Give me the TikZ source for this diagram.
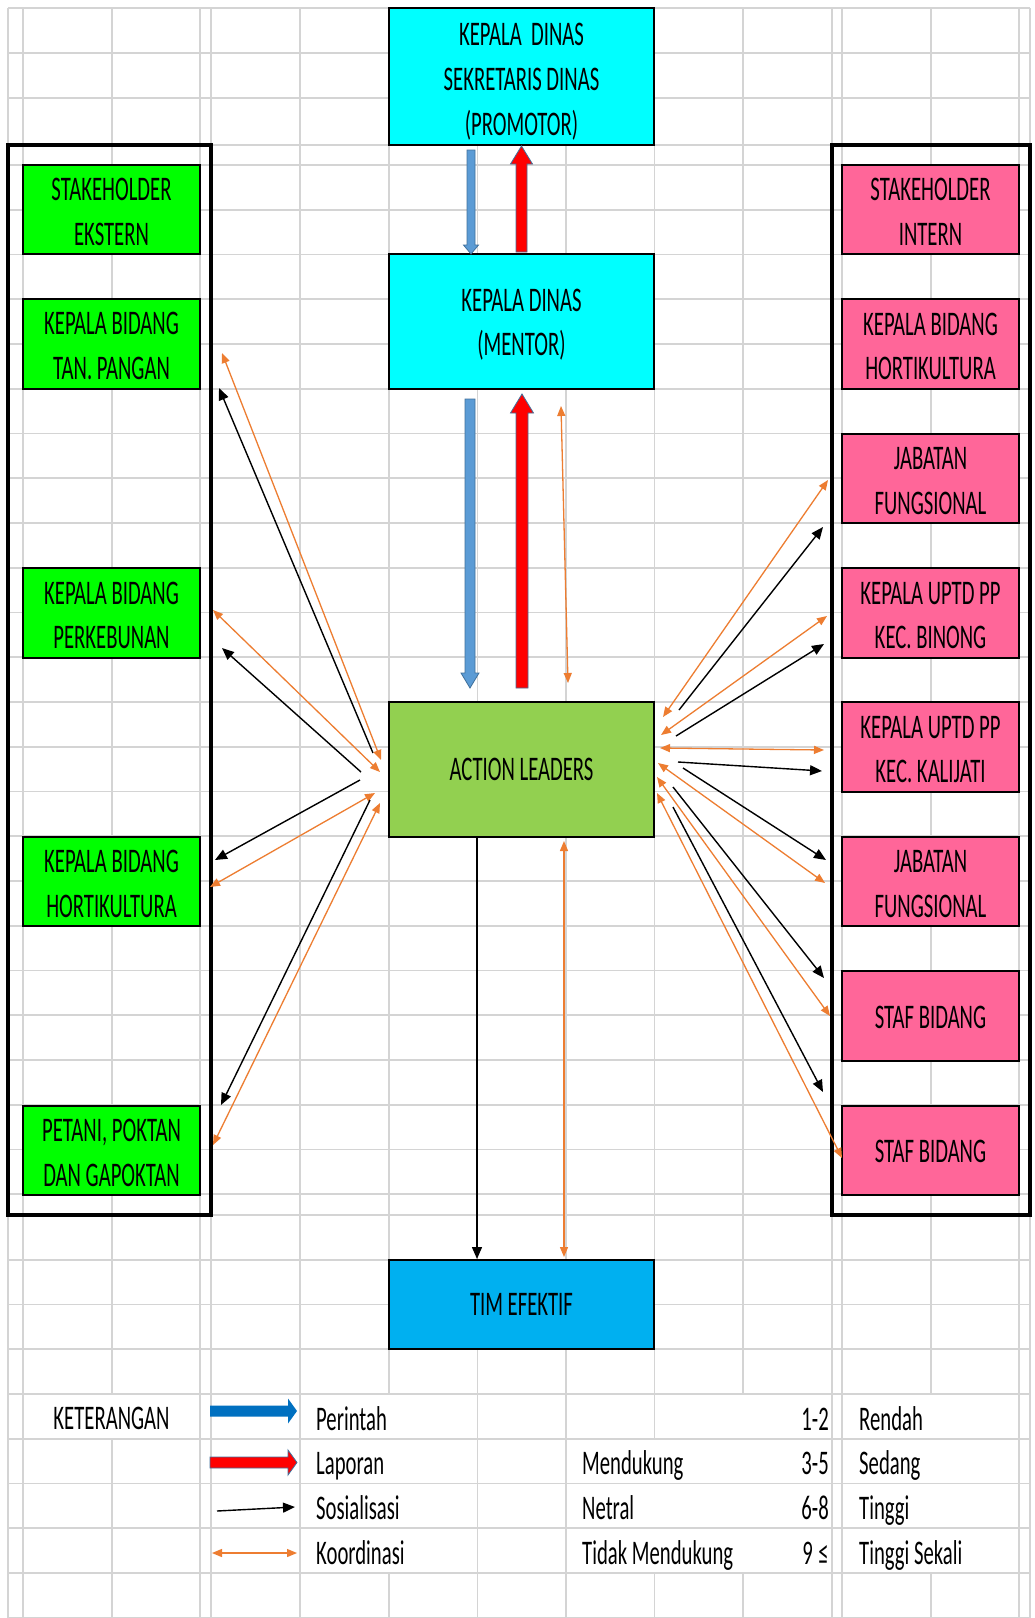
\documentclass[tikz,border=0pt]{standalone}
\usepackage{fontspec}
\setmainfont{Carlito}[FakeStretch=0.6]
\usetikzlibrary{arrows.meta}
\definecolor{gridc}{RGB}{212,212,212}
\definecolor{cyanbox}{RGB}{0,255,255}
\definecolor{greenbox}{RGB}{0,255,0}
\definecolor{pinkbox}{RGB}{255,102,153}
\definecolor{albox}{RGB}{146,208,80}
\definecolor{timbox}{RGB}{0,176,240}
\definecolor{arrblue}{RGB}{91,155,213}
\definecolor{legblue}{RGB}{0,112,192}
\definecolor{outl}{RGB}{65,113,156}
\definecolor{orng}{RGB}{237,125,49}
\newcommand\bxfont{\fontsize{34.5pt}{44.75pt}\selectfont}
\newcommand\tst[1]{\rule{0pt}{#1pt}}
% vertical block arrow: style, x, ytail, ybase, ytip, half shaft, half head
\newcommand\vblk[7]{\filldraw[#1] ({#2-#6},#3) -- ({#2-#6},#4) -- ({#2-#7},#4) -- (#2,#5) -- ({#2+#7},#4) -- ({#2+#6},#4) -- ({#2+#6},#3) -- cycle;}
% horizontal block arrow: style, y, xtail, xbase, xtip, half shaft, half head
\newcommand\hblk[7]{\filldraw[#1] (#3,{#2-#6}) -- (#4,{#2-#6}) -- (#4,{#2-#7}) -- (#5,#2) -- (#4,{#2+#7}) -- (#4,{#2+#6}) -- (#3,{#2+#6}) -- cycle;}
\begin{document}
\begin{tikzpicture}[x=1pt,y=-1pt,
  gridline/.style={gridc, line width=1.8pt},
  frame/.style={black, line width=3.3pt},
  box/.style={draw=black, line width=2.2pt, inner sep=0pt, align=center, font=\bxfont},
  lbox/.style={box, fill=greenbox, minimum width=177pt, minimum height=89.5pt},
  rbox/.style={box, fill=pinkbox, minimum width=177pt, minimum height=89.5pt},
  cbox/.style={box, minimum width=265pt},
  sos/.style={black, line width=1.4pt, -{Triangle[length=12pt,width=10pt]}},
  koor/.style={orng, line width=1.3pt, {Triangle[length=10pt,width=8pt]}-{Triangle[length=10pt,width=8pt]}},
  legtext/.style={anchor=base west, inner sep=0pt, font=\bxfont},
  blueblk/.style={fill=arrblue, draw=outl, line width=0.8pt},
  redblk/.style={fill=red, draw=outl, line width=0.8pt},
]
\useasboundingbox (0,0) rectangle (1035,1618);
\fill[white] (0,0) rectangle (1035,1618);
% ---------- grid ----------
\foreach \y in {8,53,98,145,165} \draw[gridline] (8,\y) -- (1030,\y);
\foreach \k in {1,...,23} \draw[gridline] (8,{165+44.75*\k}) -- (1030,{165+44.75*\k});
\foreach \k in {0,...,9} \draw[gridline] (8,{1215+44.75*\k}) -- (1030,{1215+44.75*\k});
\foreach \x in {8,23,200,211,300,477.5,566,832,842,1019,1030} \draw[gridline] (\x,8) -- (\x,1618);
\draw[gridline] (112,8) -- (112,1394) (112,1439) -- (112,1618);
\draw[gridline] (389,8) -- (389,1394) (389,1573) -- (389,1618);
\draw[gridline] (654.5,8) -- (654.5,1439) (654.5,1573) -- (654.5,1618);
\draw[gridline] (743,8) -- (743,1394) (743,1573) -- (743,1618);
\draw[gridline] (931,8) -- (931,1394) (931,1573) -- (931,1618);
% ---------- frames ----------
\draw[frame] (8,145) rectangle (211,1215);
\draw[frame] (832,145) rectangle (1030,1215);
% ---------- centre boxes ----------
\node[cbox, fill=cyanbox, minimum height=137pt] (promotor) at (521.5,76.5) {\tst{33}KEPALA\ \ DINAS\\SEKRETARIS DINAS\\(PROMOTOR)};
\node[cbox, fill=cyanbox, minimum height=135pt] (mentor) at (521.5,321.5) {\tst{29}KEPALA DINAS\\(MENTOR)};
\node[cbox, fill=albox, minimum height=135pt] (al) at (521.5,769.5) {ACTION LEADERS};
\node[cbox, fill=timbox, minimum height=89.5pt] (tim) at (521.5,1304.5) {TIM EFEKTIF};
% ---------- left boxes ----------
\node[lbox] (ext) at (111.5,209.5) {\tst{27}STAKEHOLDER\\EKSTERN};
\node[lbox] (l1) at (111.5,344) {\tst{27}KEPALA BIDANG\\TAN. PANGAN};
\node[lbox] (l2) at (111.5,613) {\tst{27}KEPALA BIDANG\\PERKEBUNAN};
\node[lbox] (l3) at (111.5,881.5) {\tst{27}KEPALA BIDANG\\HORTIKULTURA};
\node[lbox] (l4) at (111.5,1150.5) {\tst{27}PETANI, POKTAN\\DAN GAPOKTAN};
% ---------- right boxes ----------
\node[rbox] (int) at (930.5,209.5) {\tst{27}STAKEHOLDER\\INTERN};
\node[rbox] (r1) at (930.5,344) {\tst{27}KEPALA BIDANG\\HORTIKULTURA};
\node[rbox] (r2) at (930.5,478.5) {\tst{27}JABATAN\\FUNGSIONAL};
\node[rbox] (r3) at (930.5,613) {\tst{27}KEPALA UPTD PP\\KEC. BINONG};
\node[rbox] (r4) at (930.5,747) {\tst{27}KEPALA UPTD PP\\KEC. KALIJATI};
\node[rbox] (r5) at (930.5,881.5) {\tst{27}JABATAN\\FUNGSIONAL};
\node[rbox] (r6) at (930.5,1016) {\tst{25}STAF BIDANG};
\node[rbox] (r7) at (930.5,1150.5) {\tst{25}STAF BIDANG};
% ---------- block arrows ----------
\vblk{blueblk}{471}{150}{245}{254}{4}{7.5}
\vblk{redblk}{521.5}{252}{164}{146}{5.5}{11}
\vblk{blueblk}{470}{399}{673}{688}{5}{9}
\vblk{redblk}{522}{688}{413}{394}{6}{11.5}
% ---------- connector end points ----------
\coordinate (c0a) at (561,406);   \coordinate (c0b) at (568,683);
\coordinate (tA) at (477,838);    \coordinate (tB) at (477,1259);
\coordinate (tC) at (564,841);    \coordinate (tD) at (564,1257);
\coordinate (bl1a) at (373,753);  \coordinate (bl1b) at (219,388);
\coordinate (ol1a) at (381,760);  \coordinate (ol1b) at (222,353);
\coordinate (ol2a) at (380,772);  \coordinate (ol2b) at (213,610);
\coordinate (bl2a) at (361,772);  \coordinate (bl2b) at (222,648);
\coordinate (bl3a) at (360,780);  \coordinate (bl3b) at (215,860);
\coordinate (ol3a) at (375,793);  \coordinate (ol3b) at (210,887);
\coordinate (bl4a) at (370,800);  \coordinate (bl4b) at (221,1105);
\coordinate (ol4a) at (380,803);  \coordinate (ol4b) at (213,1145);
\coordinate (or1a) at (663,717);  \coordinate (or1b) at (828,480);
\coordinate (br1a) at (679,710);  \coordinate (br1b) at (823,527);
\coordinate (or2a) at (661,735);  \coordinate (or2b) at (827,616);
\coordinate (br2a) at (676,736);  \coordinate (br2b) at (824,644);
\coordinate (or3a) at (660,748);  \coordinate (or3b) at (824,750);
\coordinate (br3a) at (678,762);  \coordinate (br3b) at (822,771);
\coordinate (br4a) at (683,768);  \coordinate (br4b) at (826,860);
\coordinate (or4a) at (658,763);  \coordinate (or4b) at (825,883);
\coordinate (br5a) at (673,787);  \coordinate (br5b) at (824,978);
\coordinate (or5a) at (657,777);  \coordinate (or5b) at (830,1016);
\coordinate (br6a) at (673,807);  \coordinate (br6b) at (823,1092);
\coordinate (or6a) at (657,793);  \coordinate (or6b) at (842,1158);
% ---------- thin connectors ----------
\draw[koor] (c0a) -- (c0b);
\draw[sos] (tA) -- (tB);
\draw[koor] (tC) -- (tD);
\draw[sos] (bl1a) -- (bl1b);
\draw[koor] (ol1a) -- (ol1b);
\draw[koor] (ol2a) -- (ol2b);
\draw[sos] (bl2a) -- (bl2b);
\draw[sos] (bl3a) -- (bl3b);
\draw[koor] (ol3a) -- (ol3b);
\draw[sos] (bl4a) -- (bl4b);
\draw[koor] (ol4a) -- (ol4b);
\draw[koor] (or1a) -- (or1b);
\draw[sos] (br1a) -- (br1b);
\draw[koor] (or2a) -- (or2b);
\draw[sos] (br2a) -- (br2b);
\draw[koor] (or3a) -- (or3b);
\draw[sos] (br3a) -- (br3b);
\draw[sos] (br4a) -- (br4b);
\draw[koor] (or4a) -- (or4b);
\draw[sos] (br5a) -- (br5b);
\draw[koor] (or5a) -- (or5b);
\draw[sos] (br6a) -- (br6b);
\draw[koor] (or6a) -- (or6b);
% ---------- legend ----------
\node[anchor=base, inner sep=0pt, font=\bxfont] (ket) at (111.5,1429) {KETERANGAN};
\hblk{fill=legblue, draw=none}{1411}{210}{288}{297}{5.5}{12.5}
\hblk{redblk}{1462.5}{210}{288}{297}{5.5}{12.5}
\coordinate (lsa) at (217,1511); \coordinate (lsb) at (295,1507);
\draw[sos] (lsa) -- (lsb);
\coordinate (lka) at (212,1553); \coordinate (lkb) at (297,1553);
\draw[koor] (lka) -- (lkb);
\node[legtext] (lg1) at (316,1430) {Perintah};
\node[legtext] (lg2) at (316,1474.5) {Laporan};
\node[legtext] (lg3) at (316,1519.5) {Sosialisasi};
\node[legtext] (lg4) at (316,1564) {Koordinasi};
\node[legtext] (md1) at (582,1474.5) {Mendukung};
\node[legtext] (md2) at (582,1519.5) {Netral};
\node[legtext] (md3) at (582,1564) {Tidak Mendukung};
\node[legtext, anchor=base east] (n1) at (829,1430) {1-2};
\node[legtext, anchor=base east] (n2) at (829,1474.5) {3-5};
\node[legtext, anchor=base east] (n3) at (829,1519.5) {6-8};
\node[legtext, anchor=base east] (n4) at (829,1564) {9\,≤};
\node[legtext] (s1) at (859,1430) {Rendah};
\node[legtext] (s2) at (859,1474.5) {Sedang};
\node[legtext] (s3) at (859,1519.5) {Tinggi};
\node[legtext] (s4) at (859,1564) {Tinggi Sekali};
\end{tikzpicture}
\end{document}
